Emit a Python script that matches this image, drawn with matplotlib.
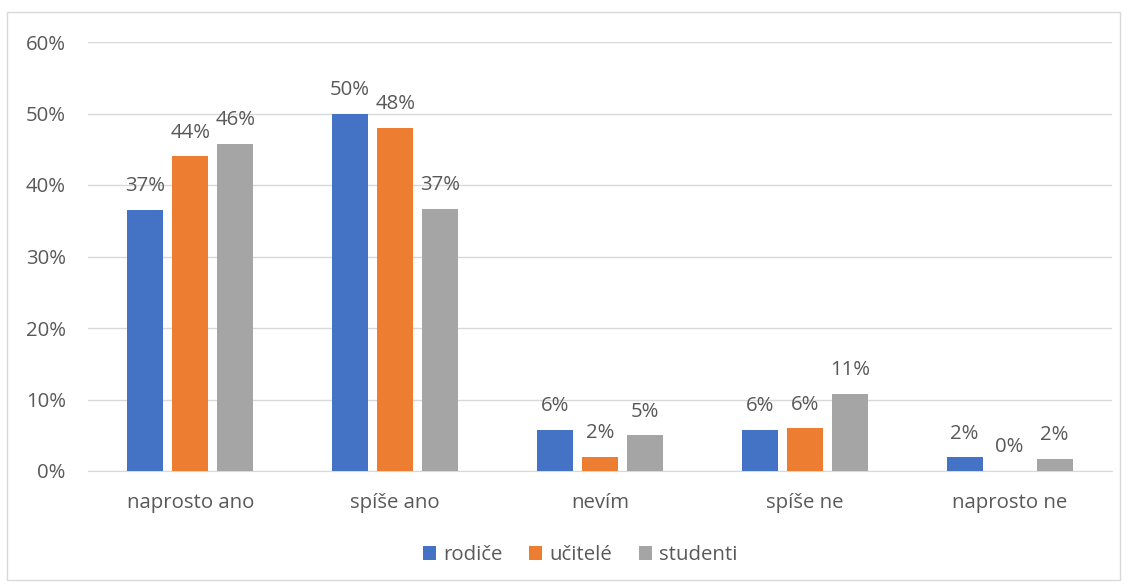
import matplotlib
matplotlib.use("Agg")
import matplotlib.pyplot as plt
import numpy as np
from matplotlib.patches import Rectangle

categories = ["naprosto ano", "spíše ano", "nevím", "spíše ne", "naprosto ne"]
series_names = ["rodiče", "učitelé", "studenti"]
rodice = [36.5, 50.0, 5.8, 5.8, 1.9]
ucitele = [44.0, 48.0, 2.0, 6.0, 0.0]
studenti = [45.8, 36.7, 5.0, 10.8, 1.7]
labels_rodice = ["37%", "50%", "6%", "6%", "2%"]
labels_ucitele = ["44%", "48%", "2%", "6%", "0%"]
labels_studenti = ["46%", "37%", "5%", "11%", "2%"]
yticks = [0, 10, 20, 30, 40, 50, 60]
colors = ["#4472C4", "#ED7D31", "#A5A5A5"]

plt.rcParams['font.family'] = ['Open Sans', 'DejaVu Sans']
txt = "#595959"
fs = 14.7

fig = plt.figure(figsize=(11.3, 5.86), dpi=100)
ax = fig.add_axes([88/1130, 1-471/586, (1112-88)/1130, (471-42)/586])

fig.patches.append(Rectangle((7/1130, 6/586), 1113/1130, 568/586,
                             transform=fig.transFigure, fill=False,
                             edgecolor="#D9D9D9", linewidth=1))

x = np.arange(len(categories))
w = 0.176
step = 0.22
data = [rodice, ucitele, studenti]
labs = [labels_rodice, labels_ucitele, labels_studenti]
for i, (vals, lb, c, n) in enumerate(zip(data, labs, colors, series_names)):
    pos = x + (i - 1) * step
    ax.bar(pos, vals, width=w, color=c, label=n, zorder=3)
    for p, v, l in zip(pos, vals, lb):
        ax.text(p, v + 1.9, l, ha="center", va="bottom", fontsize=fs, color=txt)

ax.set_xlim(-0.5, len(categories) - 0.5)
ax.set_ylim(0, 60)
ax.set_yticks(yticks)
ax.set_yticklabels([f"{t}%" for t in yticks], fontsize=fs, color=txt)
ax.set_xticks(x)
ax.set_xticklabels(categories, fontsize=fs, color=txt)
ax.tick_params(axis="both", length=0)
ax.tick_params(axis="y", pad=16)
ax.tick_params(axis="x", pad=16)
ax.grid(axis="y", color="#D9D9D9", linewidth=1, zorder=0)
for s in ["top", "right", "left"]:
    ax.spines[s].set_visible(False)
ax.spines["bottom"].set_color("#D9D9D9")

leg = fig.legend(loc="center", bbox_to_anchor=(580/1130, 1-555/586), ncol=3,
                 frameon=False, fontsize=fs, handlelength=0.65, handleheight=0.65,
                 handletextpad=0.35, columnspacing=1.3)
for t in leg.get_texts():
    t.set_color(txt)

fig.savefig("out.png", dpi=100)
